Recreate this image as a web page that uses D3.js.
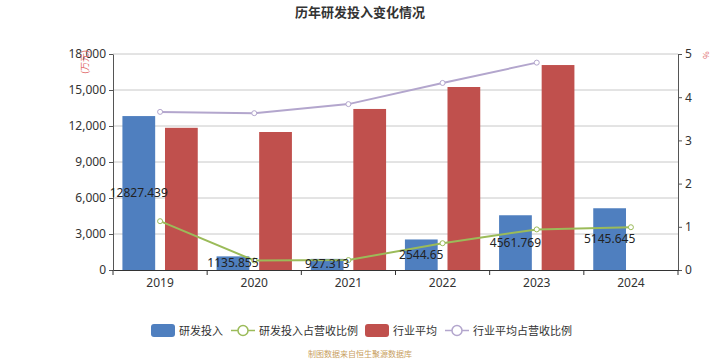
<!DOCTYPE html>
<html><head><meta charset="utf-8">
<script src="https://cdn.jsdelivr.net/npm/d3@7/dist/d3.min.js"></script>
<style>body{margin:0;background:#fff;}svg{display:block;font-family:"Microsoft YaHei","Noto Sans CJK SC",sans-serif;}</style>
</head><body>
<svg id="c" width="720" height="360"></svg>
<script>
const years = ["2019","2020","2021","2022","2023","2024"];
const rdInvest = [12827.439, 1135.855, 927.313, 2544.65, 4561.769, 5145.645];
const rdLabels = ["12827.439","1135.855","927.313","2544.65","4561.769","5145.645"];
const industryAvg = [11850, 11500, 13420, 15250, 17080, null];
const rdRatio = [1.13, 0.22, 0.23, 0.62, 0.94, 0.99];
const industryRatio = [3.66, 3.63, 3.84, 4.33, 4.80, null];
const leftTicks = [0,3000,6000,9000,12000,15000,18000];
const rightTicks = [0,1,2,3,4,5];

const svg = d3.select("#c");
const L = 113, R = 678, T = 54, B = 270;
const x = d3.scaleBand().domain(years).range([L, R]).paddingInner(0).paddingOuter(0);
const bw = x.bandwidth();
const inner = bw * 0.8;
const barW = inner / 2.3;
const gap = barW * 0.3;
const yL = d3.scaleLinear().domain([0, 18000]).range([B, T]);
const yR = d3.scaleLinear().domain([0, 5]).range([B, T]);

// grid
svg.append("g").selectAll("line").data(leftTicks.slice(1)).join("line")
  .attr("x1", L).attr("x2", R).attr("y1", d => yL(d)).attr("y2", d => yL(d))
  .attr("stroke", "#c8c8c8").attr("stroke-width", 1);

// title
svg.append("text").attr("x", 360).attr("y", 17).attr("text-anchor", "middle")
  .attr("font-size", 13).attr("font-weight", "bold").attr("fill", "#333").text("历年研发投入变化情况");

// bars
const cx = d => x(d) + bw / 2;
svg.append("g").selectAll("rect").data(years).join("rect")
  .attr("x", d => cx(d) - inner / 2).attr("width", barW)
  .attr("y", (d, i) => yL(rdInvest[i])).attr("height", (d, i) => B - yL(rdInvest[i]))
  .attr("fill", "#4f7fbf");
svg.append("g").selectAll("rect").data(years.filter((d, i) => industryAvg[i] != null)).join("rect")
  .attr("x", d => cx(d) - inner / 2 + barW + gap).attr("width", barW)
  .attr("y", (d) => yL(industryAvg[years.indexOf(d)])).attr("height", d => B - yL(industryAvg[years.indexOf(d)]))
  .attr("fill", "#c0504d");

// axes
const axL = svg.append("g").attr("transform", `translate(${L},0)`)
  .call(d3.axisLeft(yL).tickValues(leftTicks).tickFormat(d3.format(",")).tickSize(4).tickSizeOuter(0));
axL.select(".domain").attr("stroke", "#555");
axL.selectAll(".tick line").attr("stroke", "#555");
axL.selectAll("text").attr("font-size", 12).attr("fill", "#333").attr("font-family", "Noto Sans, sans-serif");

const axR = svg.append("g").attr("transform", `translate(${R},0)`)
  .call(d3.axisRight(yR).tickValues(rightTicks).tickFormat(d3.format("d")).tickSize(4).tickSizeOuter(0));
axR.select(".domain").attr("stroke", "#555");
axR.selectAll(".tick line").attr("stroke", "#555");
axR.selectAll("text").attr("font-size", 12).attr("fill", "#333").attr("font-family", "Noto Sans, sans-serif");

const axB = svg.append("g").attr("transform", `translate(0,${B})`)
  .call(d3.axisBottom(x).tickValues([]).tickSizeOuter(0));
axB.select(".domain").attr("stroke", "#333");
svg.append("g").selectAll("line").data(d3.range(years.length + 1)).join("line")
  .attr("x1", i => L + i * bw).attr("x2", i => L + i * bw).attr("y1", B).attr("y2", B + 5)
  .attr("stroke", "#333");
svg.append("g").selectAll("text").data(years).join("text")
  .attr("x", d => cx(d)).attr("y", B + 17).attr("text-anchor", "middle")
  .attr("font-size", 12).attr("fill", "#333").attr("font-family", "Noto Sans, sans-serif").text(d => d);

// unit labels
svg.append("text").attr("transform", `translate(88,62) rotate(-90)`).attr("text-anchor", "middle")
  .attr("font-size", 9).attr("fill", "#e06666").text("(万元)");
svg.append("text").attr("transform", `translate(709,55) rotate(-90)`).attr("text-anchor", "middle")
  .attr("font-size", 8).attr("fill", "#e06666").text("%");

// lines
function drawLine(vals, color) {
  const pts = years.map((d, i) => [cx(d), vals[i]]).filter(p => p[1] != null);
  svg.append("path").datum(pts)
    .attr("d", d3.line().x(p => p[0]).y(p => yR(p[1])))
    .attr("fill", "none").attr("stroke", color).attr("stroke-width", 2);
  svg.append("g").selectAll("circle").data(pts).join("circle")
    .attr("cx", p => p[0]).attr("cy", p => yR(p[1])).attr("r", 2.5)
    .attr("fill", "#fff").attr("stroke", color).attr("stroke-width", 1);
}
drawLine(industryRatio, "#b3a6cd");
drawLine(rdRatio, "#9bbb59");

// bar labels
svg.append("g").selectAll("text").data(years).join("text")
  .attr("x", d => cx(d) - inner / 2 + barW / 2)
  .attr("y", (d, i) => (yL(rdInvest[i]) + B) / 2 + 4)
  .attr("text-anchor", "middle").attr("font-size", 12).attr("fill", "#222")
  .attr("font-family", "Noto Sans, sans-serif")
  .text((d, i) => rdLabels[i]);

// legend
const lg = svg.append("g").attr("font-size", 11).attr("fill", "#333");
function legRect(x0, color, label) {
  lg.append("rect").attr("x", x0).attr("y", 324).attr("width", 24).attr("height", 13).attr("rx", 3).attr("fill", color);
  lg.append("text").attr("x", x0 + 28).attr("y", 335).attr("fill", "#333").text(label);
}
function legLine(x0, color, label) {
  lg.append("line").attr("x1", x0).attr("x2", x0 + 24).attr("y1", 330.5).attr("y2", 330.5).attr("stroke", color).attr("stroke-width", 1.5);
  lg.append("circle").attr("cx", x0 + 12).attr("cy", 330.5).attr("r", 5).attr("fill", "#fff").attr("stroke", color).attr("stroke-width", 1.5);
  lg.append("text").attr("x", x0 + 28).attr("y", 335).attr("fill", "#333").text(label);
}
legRect(151, "#4f7fbf", "研发投入");
legLine(231, "#9bbb59", "研发投入占营收比例");
legRect(365, "#c0504d", "行业平均");
legLine(445, "#b3a6cd", "行业平均占营收比例");

svg.append("text").attr("x", 360).attr("y", 357).attr("text-anchor", "middle")
  .attr("font-size", 8).attr("fill", "#c8a060").text("制图数据来自恒生聚源数据库");
</script>
</body></html>
